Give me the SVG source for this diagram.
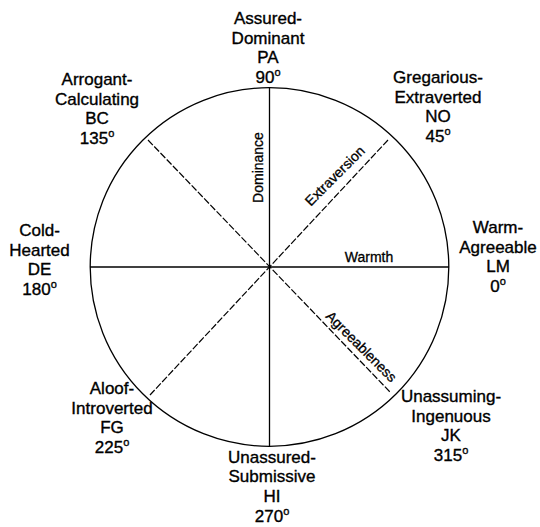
<svg xmlns="http://www.w3.org/2000/svg" width="540" height="527" viewBox="0 0 540 527">
<style>
.lbl{font-family:"Liberation Sans",Arial,sans-serif;font-size:17px;fill:#000;stroke:#000;stroke-width:0.35;text-anchor:middle}
.ax{font-family:"Liberation Sans",Arial,sans-serif;font-size:14px;fill:#000;stroke:#000;stroke-width:0.3;text-anchor:middle}
.deg{font-size:11px}
.solid{stroke:#000;stroke-width:1.3;fill:none}
.dash{stroke:#000;stroke-width:1.2;fill:none;stroke-dasharray:7 2}
</style>
<rect width="540" height="527" fill="#fff"/>
<g id="connectors">
<circle cx="269.5" cy="267" r="179.3" class="solid" stroke-width="1.5"/>
<line x1="269.5" y1="88" x2="269.5" y2="446" class="solid"/>
<line x1="90" y1="267" x2="449" y2="267" class="solid"/>
<line x1="148" y1="140" x2="390" y2="392" class="dash"/>
<line x1="388" y1="140" x2="150" y2="395" class="dash"/>
</g>
<g id="axis-labels">
<text class="ax" transform="translate(263,167.5) rotate(-90)">Dominance</text>
<text class="ax" x="369" y="261.7">Warmth</text>
<text class="ax" transform="translate(338.3,179.2) rotate(-45)">Extraversion</text>
<text class="ax" transform="translate(358,350) rotate(45)">Agreeableness</text>
</g>
<g id="PA">
<text class="lbl" x="268" y="24">Assured-</text>
<text class="lbl" x="268" y="43.5">Dominant</text>
<text class="lbl" x="268" y="63">PA</text>
<text class="lbl" x="268" y="83">90<tspan class="deg" dy="-7">o</tspan></text>
</g>
<g id="NO">
<text class="lbl" x="438" y="83">Gregarious-</text>
<text class="lbl" x="438" y="102.5">Extraverted</text>
<text class="lbl" x="438" y="122">NO</text>
<text class="lbl" x="438" y="141.5">45<tspan class="deg" dy="-7">o</tspan></text>
</g>
<g id="BC">
<text class="lbl" x="97" y="85">Arrogant-</text>
<text class="lbl" x="97" y="104.5">Calculating</text>
<text class="lbl" x="97" y="124">BC</text>
<text class="lbl" x="97" y="144">135<tspan class="deg" dy="-7">o</tspan></text>
</g>
<g id="DE">
<text class="lbl" x="39.5" y="236">Cold-</text>
<text class="lbl" x="39.5" y="255.5">Hearted</text>
<text class="lbl" x="39.5" y="275">DE</text>
<text class="lbl" x="39.5" y="294.5">180<tspan class="deg" dy="-7">o</tspan></text>
</g>
<g id="LM">
<text class="lbl" x="498" y="233">Warm-</text>
<text class="lbl" x="498" y="252.5">Agreeable</text>
<text class="lbl" x="498" y="272">LM</text>
<text class="lbl" x="498" y="291.5">0<tspan class="deg" dy="-7">o</tspan></text>
</g>
<g id="JK">
<text class="lbl" x="451" y="401.5">Unassuming-</text>
<text class="lbl" x="451" y="421.5">Ingenuous</text>
<text class="lbl" x="451" y="441">JK</text>
<text class="lbl" x="451" y="460.5">315<tspan class="deg" dy="-7">o</tspan></text>
</g>
<g id="FG">
<text class="lbl" x="112" y="393.5">Aloof-</text>
<text class="lbl" x="112" y="413.5">Introverted</text>
<text class="lbl" x="112" y="433">FG</text>
<text class="lbl" x="112" y="453">225<tspan class="deg" dy="-7">o</tspan></text>
</g>
<g id="HI">
<text class="lbl" x="272" y="462.5">Unassured-</text>
<text class="lbl" x="272" y="482">Submissive</text>
<text class="lbl" x="272" y="501.5">HI</text>
<text class="lbl" x="272" y="521.5">270<tspan class="deg" dy="-7">o</tspan></text>
</g>
</svg>
